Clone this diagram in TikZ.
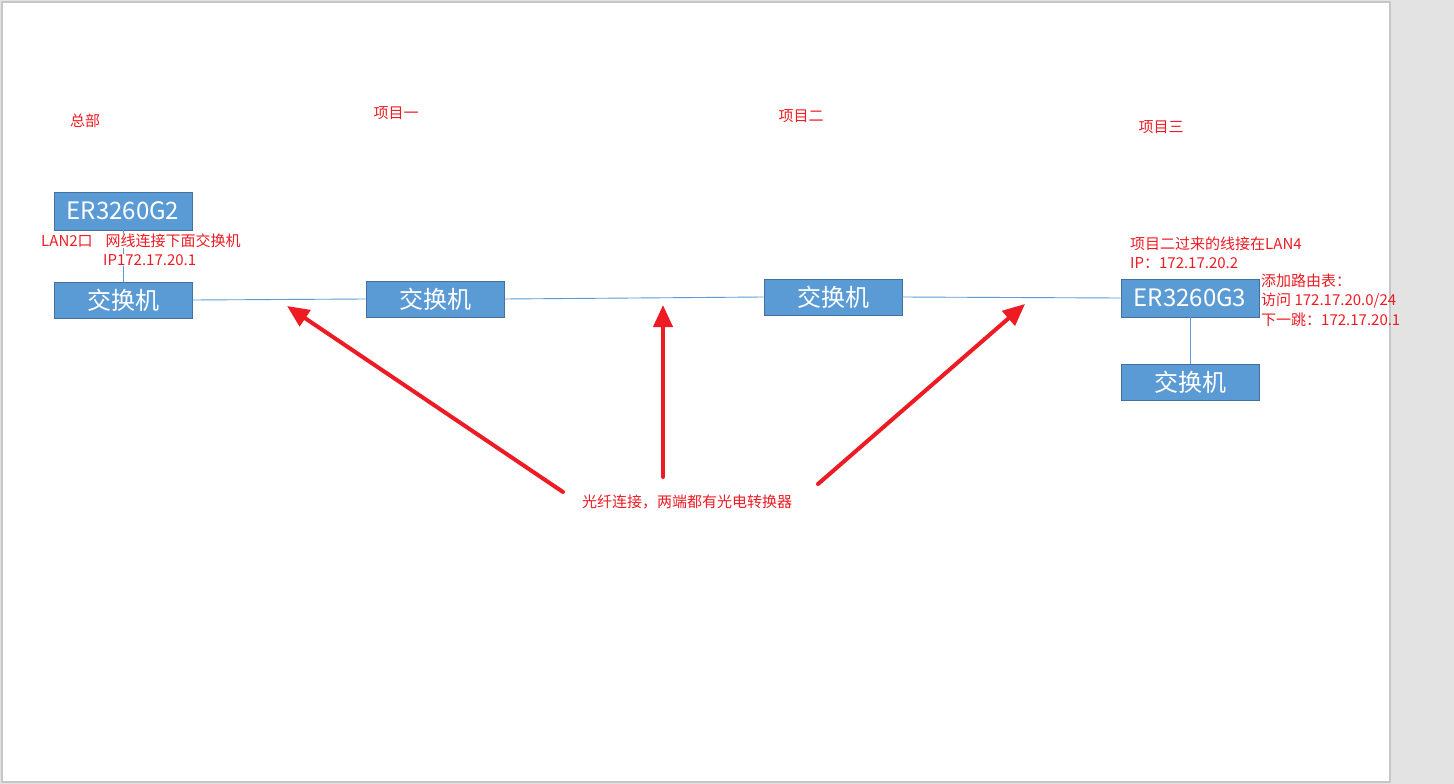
\documentclass[tikz,border=0pt]{standalone}
\usepackage{fontspec}
\setmainfont{Noto Sans CJK SC}
\usetikzlibrary{arrows.meta}
\definecolor{boxfill}{HTML}{5B9BD5}
\definecolor{boxline}{HTML}{41719C}
\definecolor{linkblue}{HTML}{5B9BD5}
\definecolor{redc}{RGB}{237,28,36}
\definecolor{pagegrey}{HTML}{E3E3E3}
\definecolor{pageedge}{HTML}{C6C6C6}
\tikzset{
  dev/.style={draw=boxline, fill=boxfill, text=white, line width=0.8pt,
    minimum width=138pt, minimum height=36pt, inner sep=0pt,
    font=\fontsize{24}{27}\selectfont},
  link/.style={draw=linkblue, line width=0.9pt},
  note/.style={text=redc, inner sep=0pt, anchor=west, align=left,
    font=\fontsize{15}{19.5}\selectfont},
  bigarrow/.style={draw=redc, line width=4pt, line cap=round,
    -{Triangle[length=22pt,width=19pt]}}
}
\begin{document}
\begin{tikzpicture}[x=1pt,y=-1pt]
\useasboundingbox (0,0) rectangle (1454,784);
\fill[pagegrey] (0,0) rectangle (1454,784);
\draw[pageedge, fill=white, line width=1.2pt] (2,2) rectangle (1390,782);

% devices
\node[dev, minimum height=38pt] (g2) at (123,211) {ER3260G2};
\node[dev] (sw1) at (123,300) {交换机};
\node[dev] (sw2) at (435,299) {交换机};
\node[dev] (sw3) at (833,297) {交换机};
\node[dev, minimum height=38pt] (g3) at (1190,298) {ER3260G3};
\node[dev] (sw4) at (1190,382) {交换机};

% links
\draw[link] (g2.south) -- (sw1.north);
\draw[link] (sw1.east) -- (sw2.west);
\draw[link] (sw2.east) -- (sw3.west);
\draw[link] (sw3.east) -- (g3.west);
\draw[link] (g3.south) -- (sw4.north);

% site labels
\node[note, anchor=center] (hq) at (85,121) {总部};
\node[note, anchor=center] (p1) at (396,113) {项目一};
\node[note, anchor=center] (p2) at (801,116) {项目二};
\node[note, anchor=center] (p3) at (1161,127) {项目三};

% notes
\node[note, fill=white] (n1) at (41,241) {LAN2口\hspace{13pt}网线连接下面交换机};
\node[note, fill=white] (n2) at (103,260) {IP172.17.20.1};
\node[note] (n3) at (1130,253) {项目二过来的线接在LAN4\\IP：172.17.20.2};
\node[note] (n4) at (1261,300) {添加路由表：\\访问 172.17.20.0/24\\下一跳：172.17.20.1};

% fibre label and arrows
\node[note, anchor=center] (fib) at (687,502) {光纤连接，两端都有光电转换器};
\coordinate (a1s) at (563,492);
\coordinate (a1e) at (287,306);
\coordinate (a2s) at (663,477);
\coordinate (a2e) at (663,305);
\coordinate (a3s) at (818,484);
\coordinate (a3e) at (1025,304);
\draw[bigarrow] (a1s) -- (a1e);
\draw[bigarrow] (a2s) -- (a2e);
\draw[bigarrow] (a3s) -- (a3e);
\end{tikzpicture}
\end{document}
